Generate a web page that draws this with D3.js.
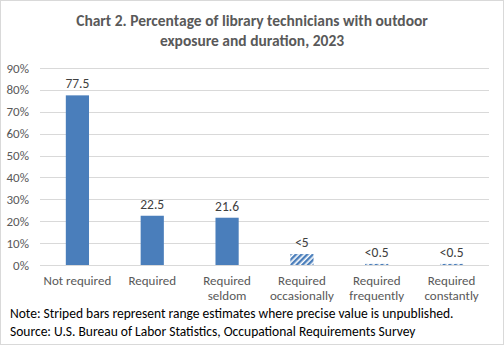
<!DOCTYPE html>
<html><head><meta charset="utf-8">
<script src="https://cdn.jsdelivr.net/npm/d3@7"></script>
<style>
html,body{margin:0;padding:0;background:#fff;}
svg{display:block;}
text{font-family:Carlito,Lato,"Open Sans",sans-serif;}
</style></head>
<body><svg id="c" width="504" height="345"></svg>
<script>
const categories = [["Not required"],["Required"],["Required","seldom"],["Required","occasionally"],["Required","frequently"],["Required","constantly"]];
const values = [77.5, 22.5, 21.6, 5, 0.5, 0.5];
const valueLabels = ["77.5","22.5","21.6","<5","<0.5","<0.5"];
const estimated = [false,false,false,true,true,true];
const yTicks = [0,10,20,30,40,50,60,70,80,90];

(function(){
const svg = d3.select("#c");
svg.append("rect").attr("x",0.5).attr("y",0.5).attr("width",503).attr("height",344)
  .attr("fill","#fff").attr("stroke","#d9d9d9");

const defs = svg.append("defs");
const pat = defs.append("pattern").attr("id","hatch").attr("patternUnits","userSpaceOnUse")
  .attr("width",4).attr("height",4).attr("patternTransform","rotate(45)");
pat.append("rect").attr("width",4).attr("height",4).attr("fill","#fff");
pat.append("rect").attr("width",2.4).attr("height",4).attr("fill","#4a7ebb");

const pL = 40, pR = 489, pT = 68, pB = 265;
const x = d3.scaleBand().domain(d3.range(categories.length)).range([pL,pR]).paddingInner(0.69).paddingOuter(0.345);
const y = d3.scaleLinear().domain([0,90]).range([pB,pT]);

svg.append("g").selectAll("line").data(yTicks).join("line")
  .attr("x1",pL).attr("x2",pR).attr("y1",d=>Math.round(y(d))+0.5).attr("y2",d=>Math.round(y(d))+0.5)
  .attr("stroke","#d9d9d9").attr("stroke-width",1);

svg.append("g").selectAll("text").data(yTicks).join("text")
  .attr("x",29).attr("y",d=>y(d)+4.5).attr("text-anchor","end")
  .attr("font-size",13).attr("fill","#595959").text(d=>d+"%");

svg.append("g").selectAll("rect").data(values).join("rect")
  .attr("x",(d,i)=>x(i)).attr("width",x.bandwidth())
  .attr("y",d=>y(d)).attr("height",d=>pB-y(d))
  .attr("fill",(d,i)=>estimated[i]?"url(#hatch)":"#4a7ebb");

svg.append("g").selectAll("text").data(values).join("text")
  .attr("x",(d,i)=>x(i)+x.bandwidth()/2).attr("y",d=>y(d)-7)
  .attr("text-anchor","middle").attr("font-size",13.5).attr("fill","#404040")
  .text((d,i)=>valueLabels[i]);

const cl = svg.append("g").selectAll("text").data(categories).join("text")
  .attr("x",(d,i)=>x(i)+x.bandwidth()/2).attr("y",284.5)
  .attr("text-anchor","middle").attr("font-size",13).attr("fill","#595959");
cl.selectAll("tspan").data(d=>d).join("tspan")
  .attr("x",function(){return this.parentNode.getAttribute("x");})
  .attr("dy",(d,i)=>i?15:0).text(d=>d);

svg.append("text").attr("x",252).attr("y",26).attr("text-anchor","middle")
  .attr("font-size",15.5).attr("font-weight","bold").attr("fill","#595959")
  .text("Chart 2. Percentage of library technicians with outdoor");
svg.append("text").attr("x",252).attr("y",46).attr("text-anchor","middle")
  .attr("font-size",15.5).attr("font-weight","bold").attr("fill","#595959")
  .text("exposure and duration, 2023");

svg.append("text").attr("x",10).attr("y",318).attr("font-size",13.5).attr("fill","#000")
  .text("Note: Striped bars represent range estimates where precise value is unpublished.");
svg.append("text").attr("x",10).attr("y",336).attr("font-size",13.5).attr("fill","#000")
  .text("Source: U.S. Bureau of Labor Statistics, Occupational Requirements Survey");
})();
</script></body></html>
